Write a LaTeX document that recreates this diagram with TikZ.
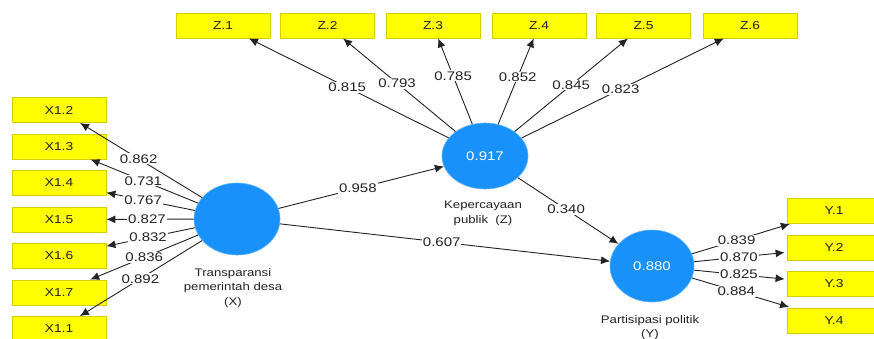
\documentclass[tikz,border=0pt]{standalone}
\usepackage{fontspec}
\setmainfont{Liberation Sans}
\usetikzlibrary{arrows.meta,shapes.geometric}
\definecolor{lvblue}{RGB}{24,146,250}
\definecolor{indyel}{RGB}{255,255,0}
\definecolor{indbrd}{RGB}{215,205,0}
\definecolor{ink}{RGB}{35,35,35}
\newcommand{\hs}[1]{\scalebox{1.2}[1]{#1}}
\begin{document}
\begin{tikzpicture}[x=1pt,y=-1pt,
  latent/.style={ellipse, fill=lvblue, draw=lvblue!70!white, line width=0.6pt, minimum width=86pt, minimum height=72pt, inner sep=0pt, text=white, font=\fontsize{12.5}{14}\selectfont},
  ind/.style={rectangle, fill=indyel, draw=indbrd, line width=0.8pt, minimum width=94pt, minimum height=25pt, inner sep=0pt, font=\fontsize{11.5}{13}\selectfont, text=ink},
  load/.style={draw=ink, line width=0.9pt, -{Latex[length=9pt,width=8pt]}},
  lbl/.style={fill=white, inner sep=1pt, font=\fontsize{12.5}{14}\selectfont, text=ink},
  lvcaption/.style={align=center, font=\fontsize{11}{14.5}\selectfont, text=ink}
]
\useasboundingbox (0,0) rectangle (874,339);
\clip (0,0) rectangle (874,339);
\fill[white] (0,0) rectangle (874,339);

% latent variables
\node[latent] (X) at (237,219) {};
\node[latent, minimum height=66pt] (Z) at (485,156) {\hs{0.917}};
\node[latent, minimum width=84pt] (Y) at (652,266) {\hs{0.880}};

% captions
\node[lvcaption] (xn) at (233,288) {\hs{Transparansi}\\\hs{pemerintah desa}\\\hs{(X)}};
\node[lvcaption] (zn) at (483,213.5) {\hs{Kepercayaan}\\\hs{publik~~(Z)}};
\node[lvcaption] (yn) at (650,327.5) {\hs{Partisipasi politik}\\\hs{(Y)}};

% X indicators
\node[ind] (x12) at (59,110) {\hs{X1.2}};
\node[ind] (x13) at (59,146.5) {\hs{X1.3}};
\node[ind] (x14) at (59,183) {\hs{X1.4}};
\node[ind] (x15) at (59,219.5) {\hs{X1.5}};
\node[ind] (x16) at (59,256) {\hs{X1.6}};
\node[ind] (x17) at (59,292.5) {\hs{X1.7}};
\node[ind] (x11) at (59,329) {\hs{X1.1}};

% Z indicators
\node[ind] (z1) at (223,25.5) {\hs{Z.1}};
\node[ind] (z2) at (327.5,25.5) {\hs{Z.2}};
\node[ind] (z3) at (433,25.5) {\hs{Z.3}};
\node[ind] (z4) at (539,25.5) {\hs{Z.4}};
\node[ind] (z5) at (643.5,25.5) {\hs{Z.5}};
\node[ind] (z6) at (750,25.5) {\hs{Z.6}};

% Y indicators
\node[ind] (y1) at (834,210.5) {\hs{Y.1}};
\node[ind] (y2) at (834,247.5) {\hs{Y.2}};
\node[ind] (y3) at (834,284) {\hs{Y.3}};
\node[ind] (y4) at (834,320.5) {\hs{Y.4}};

% connectors
\foreach \b in {x12,x13,x14,x15,x16,x17,x11} \draw[load] (X) -- (\b);
\foreach \b in {z1,z2,z3,z4,z5,z6} \draw[load] (Z) -- (\b);
\foreach \b in {y1,y2,y3,y4} \draw[load, shorten >=2pt] (Y) -- (\b);
\draw[load] (X) -- (Z);
\draw[load] (X) -- (Y);
\draw[load] (Z) -- (Y);

% labels
\foreach \b/\v/\p in {x12/0.862/0.52, x13/0.731/0.51, x14/0.767/0.585, x15/0.827/0.535, x16/0.832/0.53, x17/0.836/0.50, x11/0.892/0.505}
  \path (X) -- (\b) node[lbl,pos=\p] {\hs{\v}};
\foreach \b/\v/\p in {z1/0.815/0.508, z2/0.793/0.52, z3/0.785/0.563, z4/0.852/0.55, z5/0.845/0.50, z6/0.823/0.49}
  \path (Z) -- (\b) node[lbl,pos=\p] {\hs{\v}};
\foreach \b/\v/\p in {y1/0.839/0.448, y2/0.870/0.485, y3/0.825/0.485, y4/0.884/0.448}
  \path (Y) -- (\b) node[lbl,pos=\p] {\hs{\v}};
\path (X) -- (Z) node[lbl,pos=0.48] {\hs{0.958}};
\path (X) -- (Y) node[lbl,pos=0.49] {\hs{0.607}};
\path (Z) -- (Y) node[lbl,pos=0.48] {\hs{0.340}};
\end{tikzpicture}
\end{document}
